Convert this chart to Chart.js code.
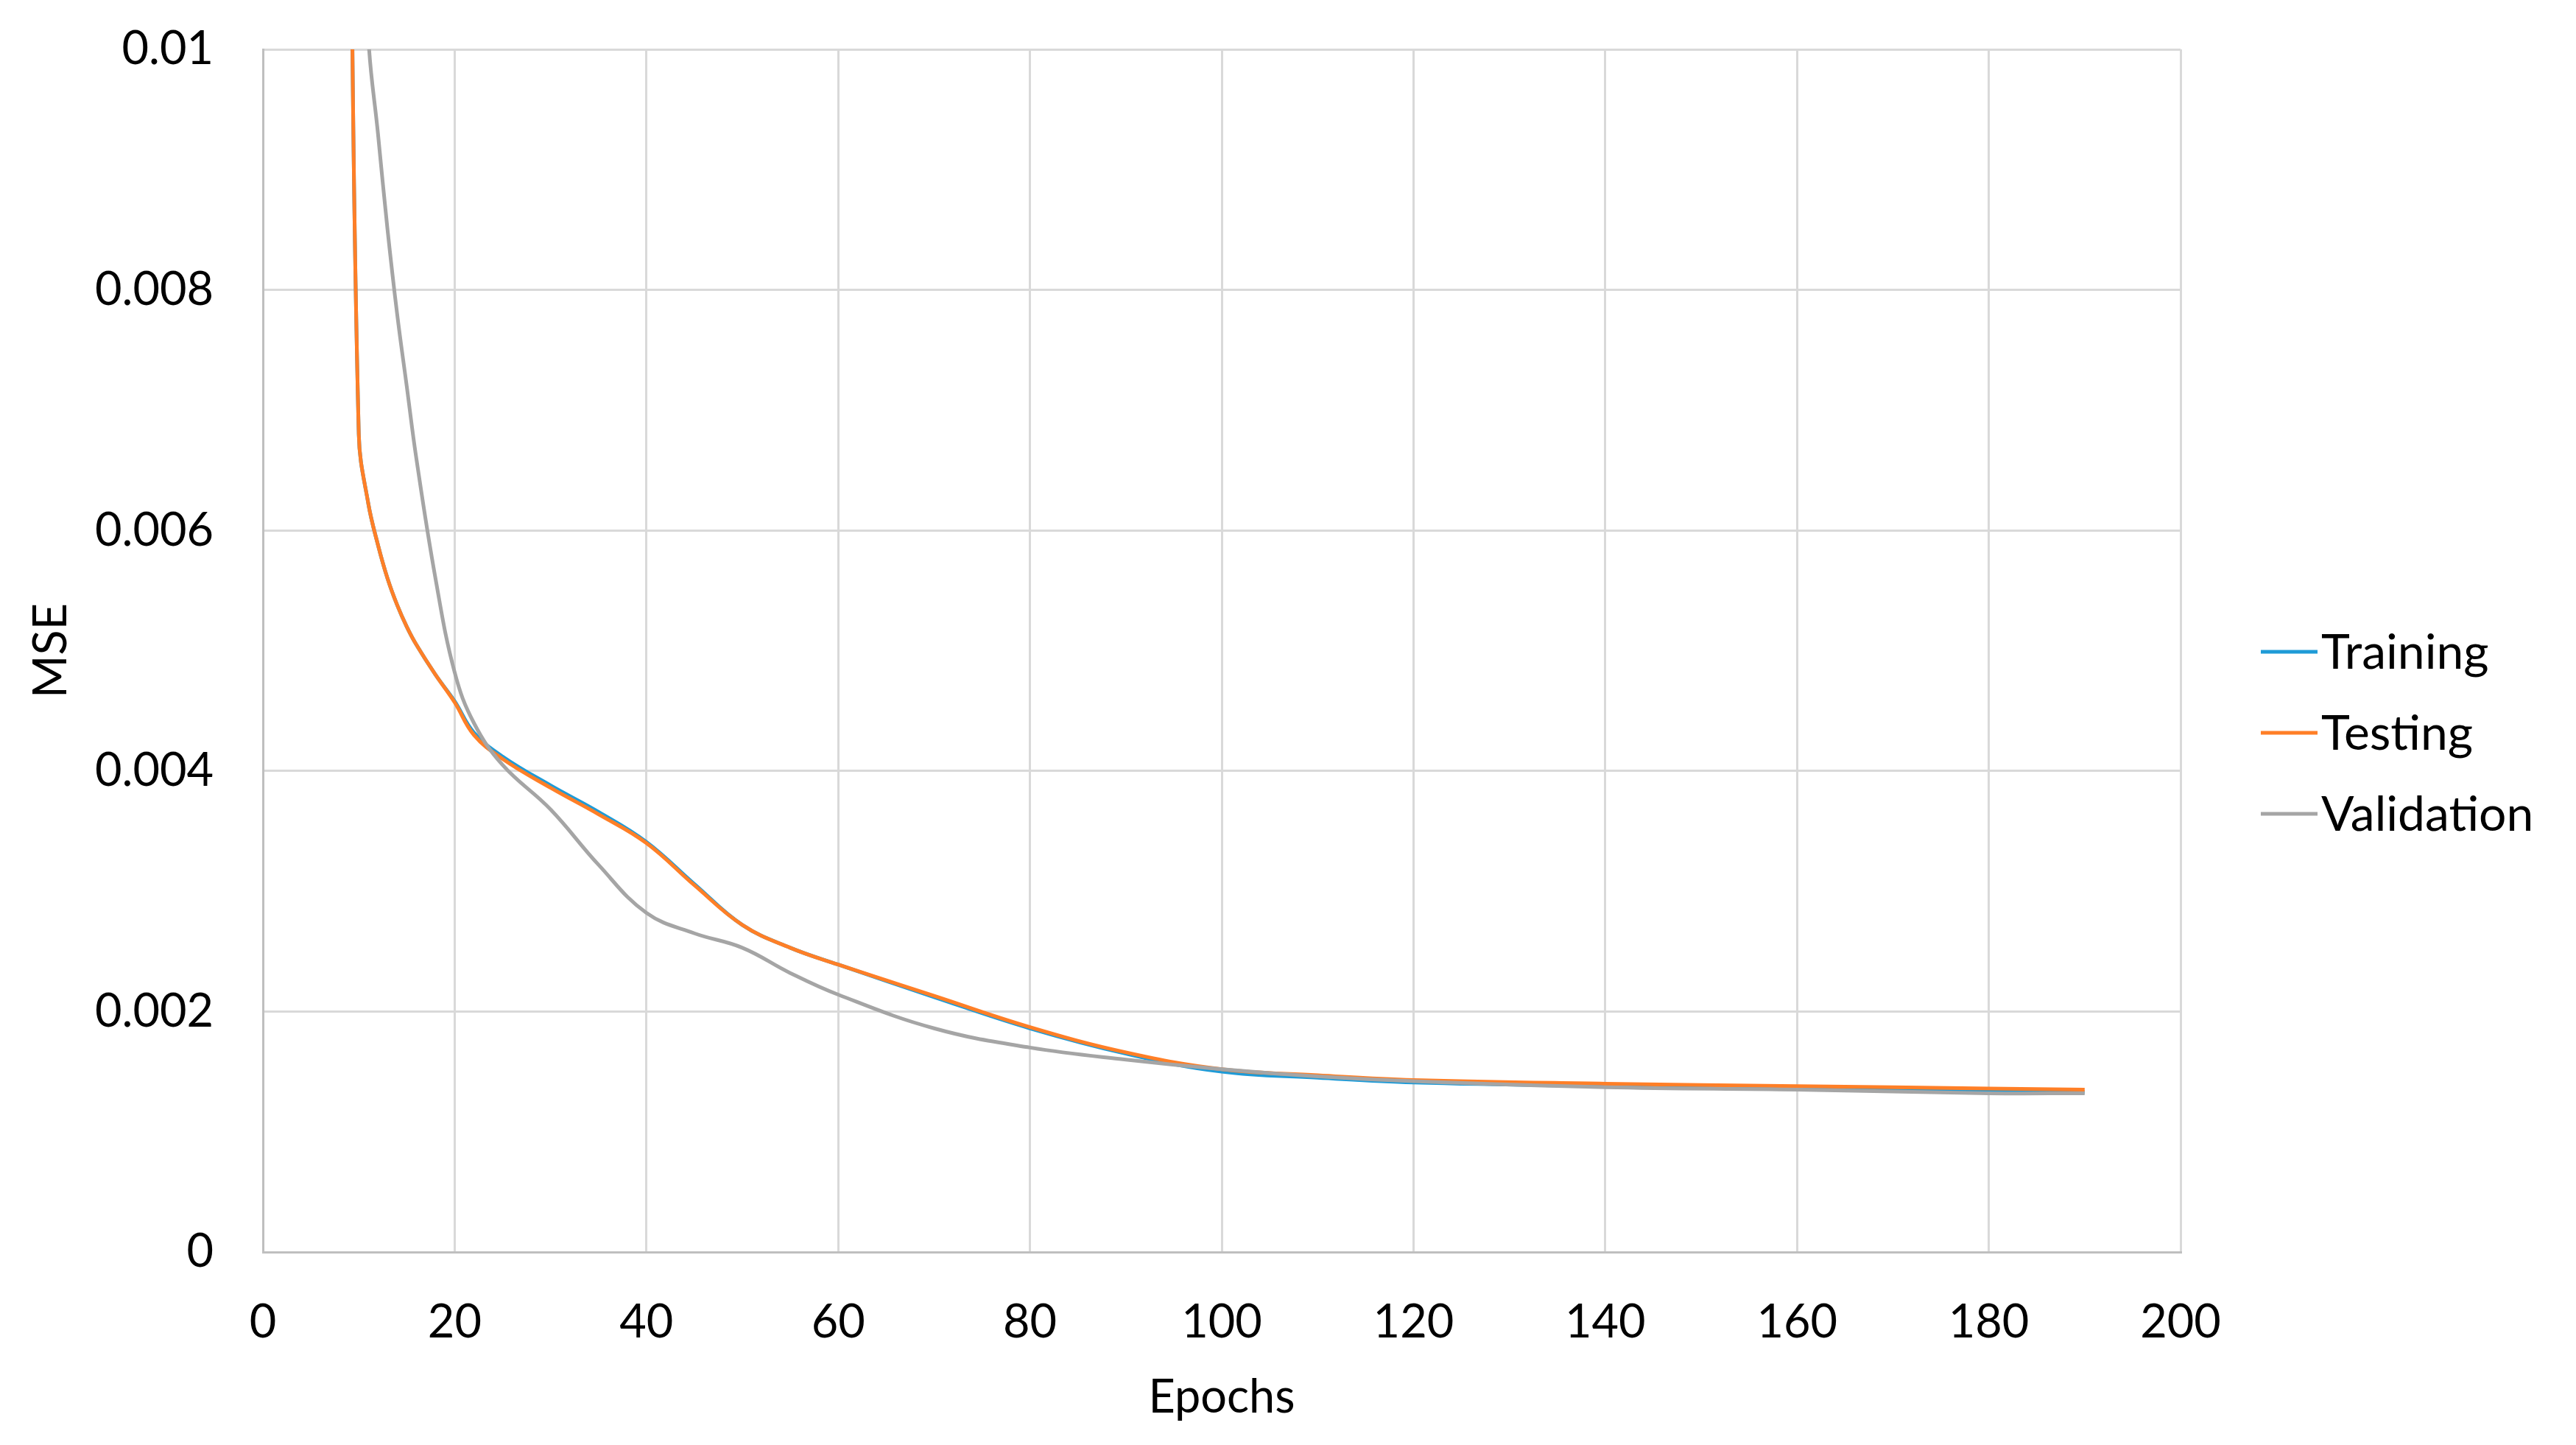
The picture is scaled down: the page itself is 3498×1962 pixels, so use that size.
<!DOCTYPE html>
<html>
<head>
<meta charset="utf-8">
<title>MSE per epoch</title>
<script src="https://cdn.jsdelivr.net/npm/chart.js"></script>
<style>
  html, body { margin: 0; padding: 0; background: #fff; }
  #wrap { width: 3498px; height: 1962px; }
</style>
</head>
<body>
<div id="wrap"><canvas id="mseChart" width="3498" height="1962"></canvas></div>
<script>
// values (first points sit above the 0.01 limit)
const epochs = [9, 10, 11, 12, 13, 14, 15, 16, 18, 20, 22, 25, 30, 35, 40, 45, 50, 55, 60, 70, 80, 90, 100, 110, 120, 140, 160, 180, 190];
const trainingMse = [0.0125, 0.0068, 0.00622, 0.00588, 0.0056, 0.00538, 0.0052, 0.00505, 0.0048, 0.00458, 0.00432, 0.00412, 0.00388, 0.00366, 0.00341, 0.00306, 0.00272, 0.00253, 0.00239, 0.00212, 0.00186, 0.00165, 0.0015, 0.00145, 0.00141, 0.00138, 0.00136, 0.00134, 0.00133];
const testingMse = [0.0125, 0.0068, 0.00622, 0.00588, 0.0056, 0.00538, 0.0052, 0.00505, 0.0048, 0.00457, 0.0043, 0.0041, 0.00386, 0.00364, 0.0034, 0.00305, 0.00272, 0.00253, 0.00239, 0.00213, 0.00187, 0.00166, 0.00152, 0.00147, 0.00143, 0.0014, 0.00138, 0.00136, 0.00135];
const validationMse = [0.016, 0.0125, 0.0101, 0.0093, 0.0085, 0.0078, 0.0072, 0.0066, 0.0056, 0.00482, 0.0044, 0.00405, 0.00368, 0.00322, 0.00282, 0.00265, 0.00253, 0.00232, 0.00214, 0.00186, 0.0017, 0.0016, 0.00152, 0.00146, 0.00142, 0.00137, 0.00135, 0.00132, 0.00132];
const xTicks = { min: 0, max: 200, step: 20 };
const yTicks = { min: 0, max: 0.01, step: 0.002 };

const toPoints = (values) => epochs.map((e, i) => ({ x: e, y: values[i] }));

Chart.defaults.font.family = 'Lato';
Chart.defaults.font.size = 63;
Chart.defaults.color = '#000';

// legend drawn by hand so the line sits right against the label, like Excel
const sideLegend = {
    id: 'sideLegend',
    afterDraw(chart) {
        const ctx = chart.ctx;
        ctx.save();
        ctx.font = '66px Lato';
        ctx.textBaseline = 'middle';
        ctx.textAlign = 'left';
        chart.data.datasets.forEach((ds, i) => {
            const y = 885 + i * 110;
            ctx.strokeStyle = ds.borderColor;
            ctx.lineWidth = 5;
            ctx.beginPath();
            ctx.moveTo(3070, y);
            ctx.lineTo(3147, y);
            ctx.stroke();
            ctx.fillStyle = '#000';
            ctx.fillText(ds.label, 3152, y + 2);
        });
        ctx.restore();
    }
};

const lineStyle = {
    borderWidth: 5,
    pointRadius: 0,
    tension: 0.4,
    clip: 0,
    fill: false
};

new Chart(document.getElementById('mseChart'), {
    type: 'line',
    data: {
        datasets: [
            { label: 'Training', data: toPoints(trainingMse), borderColor: '#1f9bd7', order: 3, ...lineStyle },
            { label: 'Testing', data: toPoints(testingMse), borderColor: '#ff7f27', order: 2, ...lineStyle },
            { label: 'Validation', data: toPoints(validationMse), borderColor: '#a5a5a5', order: 1, ...lineStyle }
        ]
    },
    options: {
        responsive: false,
        animation: false,
        devicePixelRatio: 1,
        layout: { padding: { top: 67, right: 537, left: 0, bottom: 0 } },
        plugins: { legend: { display: false }, tooltip: { enabled: false } },
        scales: {
            x: {
                type: 'linear',
                min: xTicks.min,
                max: xTicks.max,
                ticks: { stepSize: xTicks.step, padding: 58 },
                grid: { color: '#d9d9d9', lineWidth: 3, drawTicks: false },
                border: { color: '#bfbfbf', width: 3 },
                title: { display: true, text: 'Epochs', padding: { top: 0, bottom: 27 } },
                afterFit: (s) => { s.height = 262; }
            },
            y: {
                min: yTicks.min,
                max: yTicks.max,
                ticks: {
                    stepSize: yTicks.step,
                    padding: 0,
                    callback: (v) => String(+v.toFixed(3))
                },
                // invisible tick marks give the gap between labels and the axis
                grid: { color: '#d9d9d9', lineWidth: 3, drawTicks: true, tickLength: 67, tickColor: 'rgba(0,0,0,0)' },
                border: { color: '#bfbfbf', width: 3 },
                title: { display: true, text: 'MSE', padding: { top: 32, bottom: 0 } },
                afterFit: (s) => { s.width = 357; }
            }
        }
    },
    plugins: [sideLegend]
});
</script>
</body>
</html>
